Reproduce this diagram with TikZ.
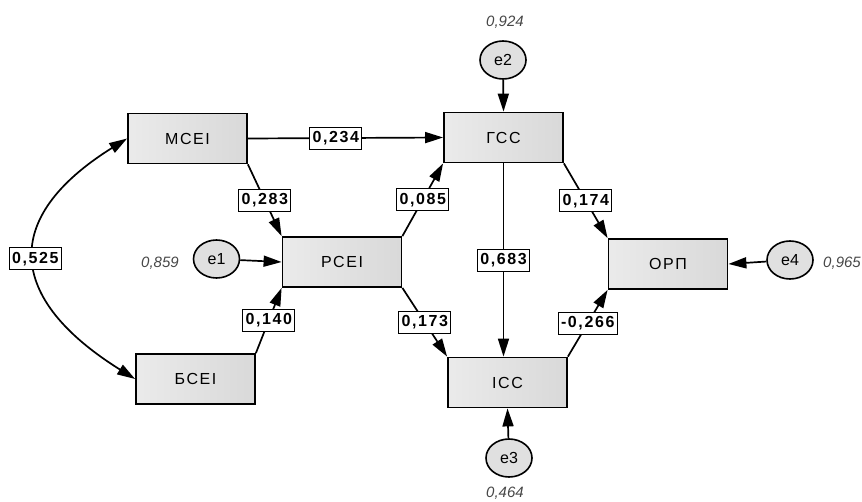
\documentclass[tikz,border=0pt]{standalone}
\usepackage{fontspec}
\setmainfont{Liberation Sans}
\newfontfamily\spacedfont{Liberation Sans}[LetterSpace=10]
\usetikzlibrary{shapes.geometric,arrows.meta}

\begin{document}
\begin{tikzpicture}[x=1pt, y=-1pt,
    var/.style={draw, line width=1.8pt, left color=black!8, right color=black!15,
      minimum width=119pt, minimum height=50pt,
      font=\spacedfont\fontsize{16}{18}\selectfont},
    err/.style={ellipse, draw, line width=1.6pt, fill=black!12,
      minimum width=46pt, minimum height=38pt, inner sep=0pt,
      font=\fontsize{16}{18}\selectfont},
    coef/.style={draw, fill=white, line width=1pt, inner xsep=3pt, inner ysep=0pt,
      minimum height=22pt, font=\spacedfont\bfseries\fontsize{16}{18}\selectfont},
    rsq/.style={text=black!72, font=\itshape\fontsize{15}{16}\selectfont},
    arr/.style={line width=1.7pt, -{Triangle[length=18pt,width=11pt]}}]
  \useasboundingbox (0,0) rectangle (862,501);
  % observed variables
  \node[var] (mcei) at (187.5,138.5) {МСЕІ};
  \node[var] (bcei) at (195.5,379) {БСЕІ};
  \node[var] (pcei) at (342,262) {РСЕІ};
  \node[var] (gcc) at (503.5,137.5) {ГСС};
  \node[var] (icc) at (507.5,382.5) {ІСС};
  \node[var] (orp) at (668,264) {ОРП};
  % residuals
  \node[err] (e1) at (216.5,259) {e1};
  \node[err] (e2) at (503,60) {e2};
  \node[err] (e3) at (509,458) {e3};
  \node[err] (e4) at (790,260) {e4};
  \node[rsq] (r1) at (160,263) {0,859};
  \node[rsq] (r2) at (505,22) {0,924};
  \node[rsq] (r3) at (505,493) {0,464};
  \node[rsq] (r4) at (842,263) {0,965};
  % paths
  \draw[arr, {Triangle[length=18pt,width=11pt]}-{Triangle[length=18pt,width=11pt]}]
    (mcei.west) to[out=212, in=148, looseness=1.6] node[coef]{0,525} (bcei.west);
  \draw[arr] (mcei.east) -- node[coef, pos=0.45]{0,234} (gcc.west);
  \draw[arr] (mcei.south east) -- node[coef]{0,283} (pcei.north west);
  \draw[arr] (bcei.north east) -- node[coef]{0,140} (pcei.south west);
  \draw[arr] (pcei.north east) -- node[coef]{0,085} (gcc.south west);
  \draw[arr] (pcei.south east) -- node[coef]{0,173} (icc.north west);
  \draw[arr] (gcc.south) -- node[coef]{0,683} (gcc.south |- icc.north);
  \draw[arr] (gcc.south east) -- node[coef]{0,174} (orp.north west);
  \draw[arr] (icc.north east) -- node[coef]{-0,266} (orp.south west);
  \draw[arr] (e1) -- (pcei.west);
  \draw[arr] (e2) -- (gcc.north);
  \draw[arr] (e3) -- (icc.south);
  \draw[arr] (e4) -- (orp.east);
\end{tikzpicture}
\end{document}
